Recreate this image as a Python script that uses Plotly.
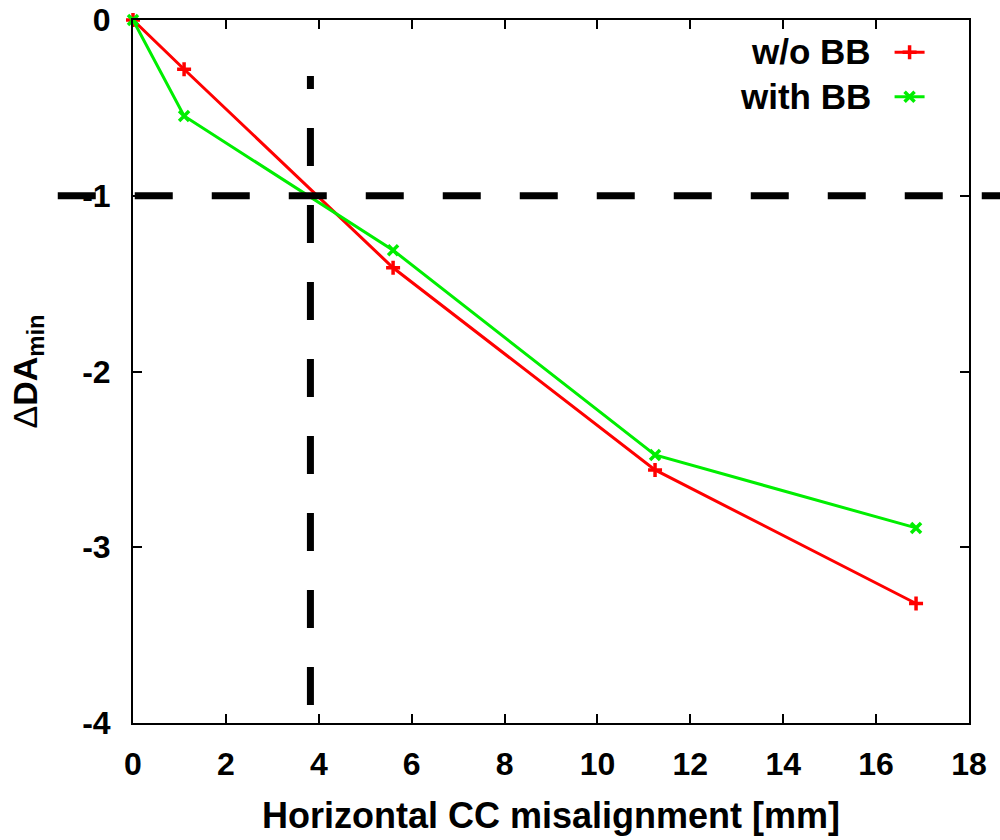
import plotly.graph_objects as go

x_vals = [0.0, 1.1, 5.6, 11.24, 16.86]
y_wo_bb = [0.0, -0.28, -1.41, -2.56, -3.32]
y_with_bb = [0.0, -0.546, -1.31, -2.475, -2.89]
names = ["w/o BB", "with BB"]
x_ticks = [0, 2, 4, 6, 8, 10, 12, 14, 16, 18]
y_ticks = [0, -1, -2, -3, -4]
y_ticktext = ["0", "-1", "-2", "-3", "-4"]
h_ref = -1.0
v_ref = 3.82
v_ref_span = [-3.898, -0.319]  # drawn bottom to top

FONT = "Liberation Sans, Arial, sans-serif"

fig = go.Figure()
fig.add_trace(go.Scatter(x=x_vals, y=y_wo_bb, mode="lines+markers", name="",
                         line=dict(color="#ff0000", width=3),
                         marker=dict(symbol="cross-thin", size=10, line=dict(color="#ff0000", width=3.5)),
                         cliponaxis=False))
fig.add_trace(go.Scatter(x=x_vals, y=y_with_bb, mode="lines+markers", name="",
                         line=dict(color="#00ee00", width=3),
                         marker=dict(symbol="x-thin", size=10, line=dict(color="#00ee00", width=3.5)),
                         cliponaxis=False))

# reference lines
fig.add_shape(type="line", xref="paper", yref="y", x0=-0.09, x1=1.04, y0=h_ref, y1=h_ref,
              line=dict(color="black", width=7, dash="38px,39px"), layer="above")
fig.add_shape(type="line", xref="x", yref="y", x0=v_ref, x1=v_ref, y0=v_ref_span[0], y1=v_ref_span[1],
              line=dict(color="black", width=7, dash="38px,39px"), layer="above")

# legend texts (gnuplot-style: text left of sample)
for i, n in enumerate(names):
    fig.add_annotation(text="<b>%s</b>" % n, xref="paper", yref="paper",
                       x=0.885, y=0.9545 - i * 0.064, xanchor="right", yanchor="middle",
                       showarrow=False, font=dict(family=FONT, size=35, color="black"))

axis_common = dict(showline=True, linecolor="black", linewidth=2, mirror="ticks",
                   ticks="inside", ticklen=9, tickwidth=2, tickcolor="black",
                   showgrid=False, zeroline=False, automargin=False,
                   tickfont=dict(family=FONT, size=32, color="black", weight="bold"))

fig.update_layout(
    width=1000, height=840,
    margin=dict(l=133, r=31, t=20, b=117),
    paper_bgcolor="white", plot_bgcolor="white",
    showlegend=True,
    legend=dict(x=0.905, y=0.993, xanchor="left", yanchor="top",
                font=dict(family=FONT, size=32), tracegroupgap=0,
                bgcolor="rgba(0,0,0,0)", itemwidth=30),
    xaxis=dict(range=[0, 18], tickvals=x_ticks, ticklabelstandoff=12,
               title=dict(text="<b>Horizontal CC misalignment [mm]</b>",
                          font=dict(family=FONT, size=36, color="black"), standoff=21),
               **axis_common),
    yaxis=dict(range=[-4, 0], tickvals=y_ticks, ticktext=y_ticktext, ticklabelstandoff=14,
               title=dict(text="Δ<b>DA<sub>min</sub></b>",
                          font=dict(family=FONT, size=34, color="black"), standoff=34),
               **axis_common),
)

fig.write_html("out.html")
